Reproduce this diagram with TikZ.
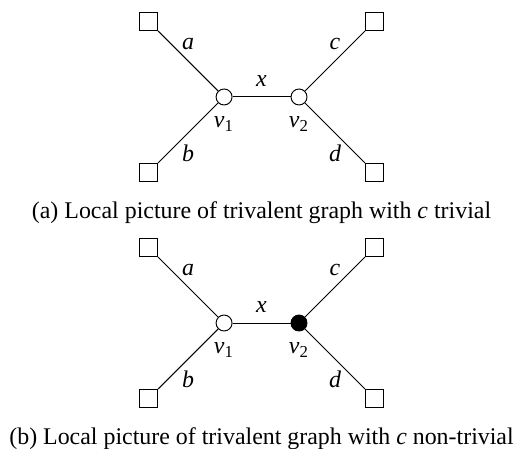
\documentclass[tikz,border=0pt]{standalone}
\usepackage{fontspec}
\setmainfont{Liberation Serif}
\usetikzlibrary{positioning}
\tikzset{
  % Vertex (open circle)
  vtx/.style={circle,draw,fill=white,minimum size=0.235cm,inner sep=0pt},
  % Leaf (small square)
  leaf/.style={rectangle,draw,fill=white,minimum size=0.265cm,inner sep=0pt},
  % Edge and vertex labels
  elbl/.style={font=\itshape},
  vlbl/.style={label distance=1.2pt},
}

\begin{document}
\begin{tikzpicture}
  \useasboundingbox (0,0) rectangle (7.588,6.588);

  \foreach \p/\dy/\vcol/\kind in {a/0/white/trivial,b/-3.324/black/non-trivial}{
    \begin{scope}[yshift=\dy cm]
      % Vertices
      \node[vtx,label={[vlbl]below:\textit{v}\textsubscript{1}}] (v1\p) at (3.295,5.162) {};
      \node[vtx,fill=\vcol,label={[vlbl]below:\textit{v}\textsubscript{2}},
        on grid,right=1.102cm of v1\p] (v2\p) {};

      % Leaves
      \node[leaf,on grid,above left=1.11cm and 1.11cm of v1\p] (la\p) {};
      \node[leaf,on grid,below left=1.11cm and 1.11cm of v1\p] (lb\p) {};
      \node[leaf,on grid,above right=1.11cm and 1.11cm of v2\p] (lc\p) {};
      \node[leaf,on grid,below right=1.11cm and 1.11cm of v2\p] (ld\p) {};

      % Edges
      \draw (la\p) -- node[elbl,above=1pt] {a} (v1\p);
      \draw (lb\p) -- node[elbl,below=1.6pt] {b} (v1\p);
      \draw (v1\p) -- node[elbl,above=0.7pt] {x} (v2\p);
      \draw (v2\p) -- node[elbl,above=1pt] {c} (lc\p);
      \draw (v2\p) -- node[elbl,below=1.6pt] {d} (ld\p);

      % Caption
      \node (cap\p) at (3.846,3.465)
        {(\p) Local picture of trivalent graph with \textit{c} \kind};
    \end{scope}
  }
\end{tikzpicture}
\end{document}
